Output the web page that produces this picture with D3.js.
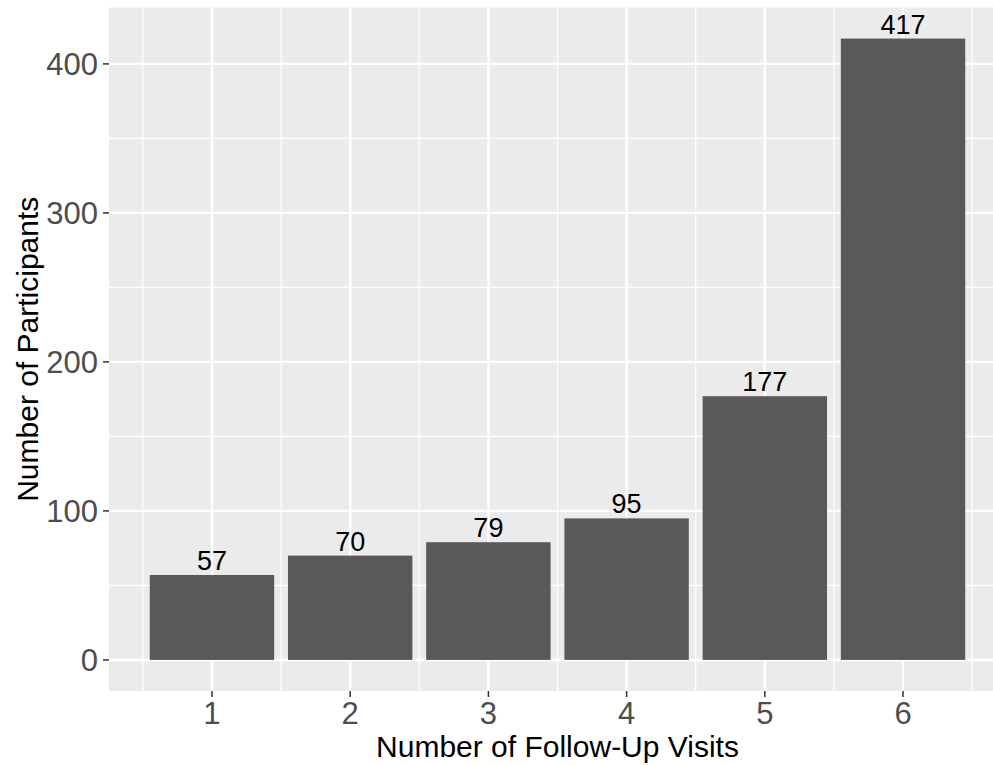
<!DOCTYPE html>
<html>
<head>
<meta charset="utf-8">
<script src="https://cdn.jsdelivr.net/npm/d3@7"></script>
<style>
  body { margin: 0; background: #fff; }
  text { font-family: 'Liberation Sans', Arial, sans-serif; }
</style>
</head>
<body>
<div id="chart"></div>
<script>
// data
const visits = [1, 2, 3, 4, 5, 6]
const participants = [57, 70, 79, 95, 177, 417]
const yTicks = [0, 100, 200, 300, 400]
const yMinor = [50, 150, 250, 350]
const xMinor = [0.5, 1.5, 2.5, 3.5, 4.5, 5.5, 6.5]

const width = 993
const height = 765

// panel area (right side runs past the picture edge like in the reference)
const panel = { left: 109, right: 1006, top: 7.5, bottom: 691 }

const svg = d3.select('#chart')
  .append('svg')
  .attr('width', width)
  .attr('height', height)

const yMax = d3.max(participants)
const x = d3.scaleLinear()
  .domain([0.255, 6.745])
  .range([panel.left, panel.right])
const y = d3.scaleLinear()
  .domain([-0.05 * yMax, 1.05 * yMax])
  .range([panel.bottom, panel.top])

// panel background
svg.append('rect')
  .attr('x', panel.left)
  .attr('y', panel.top)
  .attr('width', panel.right - panel.left)
  .attr('height', panel.bottom - panel.top)
  .attr('fill', '#ebebeb')

const grid = svg.append('g')

// minor grid
yMinor.forEach(v => {
  grid.append('line')
    .attr('x1', panel.left).attr('x2', panel.right)
    .attr('y1', y(v)).attr('y2', y(v))
    .attr('stroke', '#fff').attr('stroke-width', 1.2)
})
xMinor.forEach(v => {
  grid.append('line')
    .attr('x1', x(v)).attr('x2', x(v))
    .attr('y1', panel.top).attr('y2', panel.bottom)
    .attr('stroke', '#fff').attr('stroke-width', 1.2)
})

// major grid
yTicks.forEach(v => {
  grid.append('line')
    .attr('x1', panel.left).attr('x2', panel.right)
    .attr('y1', y(v)).attr('y2', y(v))
    .attr('stroke', '#fff').attr('stroke-width', 2.4)
})
visits.forEach(v => {
  grid.append('line')
    .attr('x1', x(v)).attr('x2', x(v))
    .attr('y1', panel.top).attr('y2', panel.bottom)
    .attr('stroke', '#fff').attr('stroke-width', 2.4)
})

// bars
const barHalf = 0.45
svg.append('g')
  .selectAll('rect')
  .data(visits)
  .join('rect')
  .attr('x', d => x(d - barHalf))
  .attr('width', d => x(d + barHalf) - x(d - barHalf))
  .attr('y', (d, i) => y(participants[i]))
  .attr('height', (d, i) => y(0) - y(participants[i]))
  .attr('fill', '#595959')

// bar labels
svg.append('g')
  .selectAll('text')
  .data(visits)
  .join('text')
  .attr('x', d => x(d))
  .attr('y', (d, i) => y(participants[i]) - 5)
  .attr('text-anchor', 'middle')
  .attr('font-size', 27)
  .attr('fill', '#000')
  .text((d, i) => participants[i])

// y axis
const yAxis = svg.append('g')
yTicks.forEach(v => {
  yAxis.append('line')
    .attr('x1', panel.left - 6).attr('x2', panel.left)
    .attr('y1', y(v)).attr('y2', y(v))
    .attr('stroke', '#333').attr('stroke-width', 1.5)
  yAxis.append('text')
    .attr('x', panel.left - 11)
    .attr('y', y(v))
    .attr('dy', '0.36em')
    .attr('text-anchor', 'end')
    .attr('font-size', 31)
    .attr('fill', '#4d4d4d')
    .text(v)
})

// x axis
const xAxis = svg.append('g')
visits.forEach(v => {
  xAxis.append('line')
    .attr('x1', x(v)).attr('x2', x(v))
    .attr('y1', panel.bottom).attr('y2', panel.bottom + 6)
    .attr('stroke', '#333').attr('stroke-width', 1.5)
  xAxis.append('text')
    .attr('x', x(v))
    .attr('y', panel.bottom + 33)
    .attr('text-anchor', 'middle')
    .attr('font-size', 31)
    .attr('fill', '#4d4d4d')
    .text(v)
})

// axis titles
svg.append('text')
  .attr('x', (panel.left + panel.right) / 2)
  .attr('y', 757)
  .attr('text-anchor', 'middle')
  .attr('font-size', 30)
  .attr('fill', '#000')
  .text('Number of Follow-Up Visits')

svg.append('text')
  .attr('transform', `translate(38, ${(panel.top + panel.bottom) / 2}) rotate(-90)`)
  .attr('text-anchor', 'middle')
  .attr('font-size', 30)
  .attr('fill', '#000')
  .text('Number of Participants')
</script>
</body>
</html>
